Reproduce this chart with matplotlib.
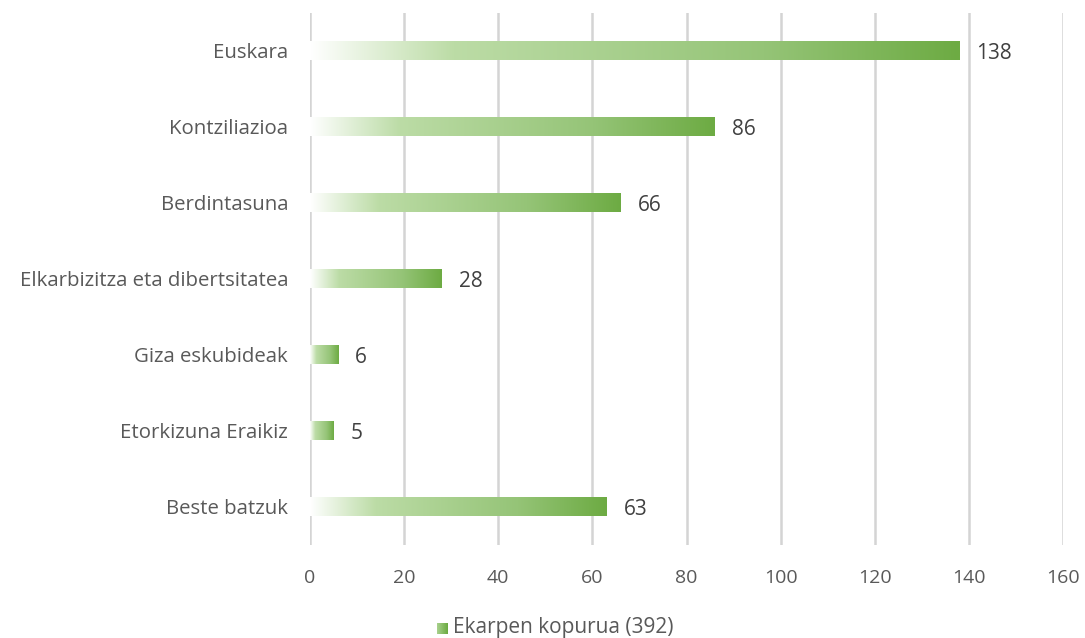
import matplotlib
matplotlib.use("Agg")
import matplotlib.pyplot as plt
import numpy as np
from matplotlib.colors import LinearSegmentedColormap

categories = ["Euskara", "Kontziliazioa", "Berdintasuna", "Elkarbizitza eta dibertsitatea",
              "Giza eskubideak", "Etorkizuna Eraikiz", "Beste batzuk"]
values = [138, 86, 66, 28, 6, 5, 63]
xticks = [0, 20, 40, 60, 80, 100, 120, 140, 160]
legend_label = "Ekarpen kopurua (392)"

plt.rcParams['font.family'] = ['Open Sans', 'DejaVu Sans']

cmap = LinearSegmentedColormap.from_list(
    "g", [(0.0, "#ffffff"), (0.22, "#bcdca6"), (0.7, "#95c477"), (1.0, "#6dab43")])

fig = plt.figure(figsize=(10.85, 6.38), dpi=100)
ax = fig.add_axes([310/1085, 1-545/638, (1063-310)/1085, (545-13)/638])

grad = np.linspace(0, 1, 256).reshape(1, -1)
h = 0.24
ys = np.arange(len(categories))
for y, v in zip(ys, values):
    ax.imshow(grad, cmap=cmap, extent=[0, v, y + h/2, y - h/2], aspect='auto',
              interpolation='bilinear', zorder=3)
    ax.text(v + 3.6, y, str(v), va='center_baseline', ha='left', fontsize=15, color='#404040')

ax.set_xlim(0, 160)
ax.set_ylim(len(categories) - 0.5, -0.5)
ax.set_xticks(xticks)
ax.set_xticklabels([str(t) for t in xticks], fontsize=14, color='#595959')
ax.set_yticks(ys)
ax.set_yticklabels(categories, fontsize=14.7, color='#595959')
ax.tick_params(axis='both', length=0)
ax.tick_params(axis='x', pad=17)
ax.tick_params(axis='y', pad=15.8)
for s in ax.spines.values():
    s.set_visible(False)
ax.grid(axis='x', color='#d4d4d4', linewidth=1.8, zorder=0)
ax.set_axisbelow(True)

# legend
lax = fig.add_axes([437/1085, 1-634/638, 11/1085, 11/638])
lax.imshow(grad, cmap=LinearSegmentedColormap.from_list("l", ["#a9d18e", "#6aaa40"]),
           aspect='auto', extent=[0, 1, 0, 1])
lax.set_axis_off()
fig.text(453/1085, 1-628/638, legend_label, fontsize=15, color='#595959', va='center', ha='left')

fig.savefig("out.png", dpi=100)
